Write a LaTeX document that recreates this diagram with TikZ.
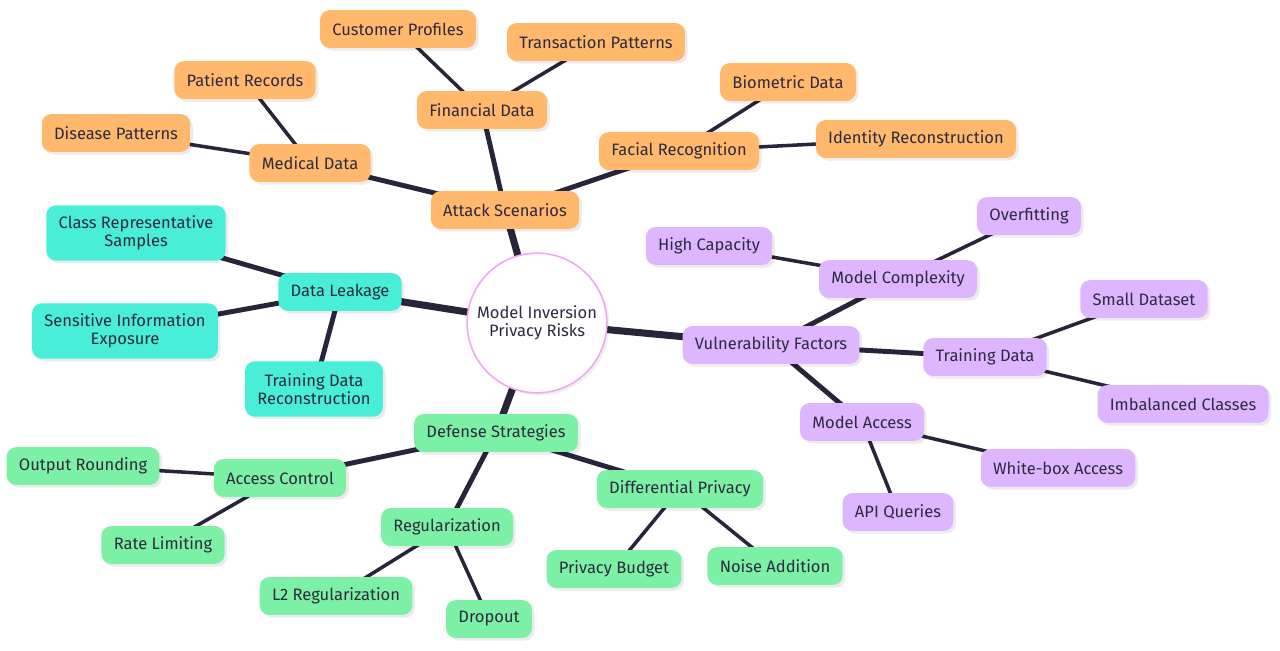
\documentclass[tikz,border=0pt]{standalone}
\usepackage{fontspec}
\setmainfont{Fira Sans}
\usetikzlibrary{shadows,backgrounds}
\definecolor{atkcol}{RGB}{255,184,108}
\definecolor{leakcol}{RGB}{72,238,216}
\definecolor{vulncol}{RGB}{221,182,255}
\definecolor{defcol}{RGB}{124,240,164}
\definecolor{edgecol}{RGB}{40,36,58}
\definecolor{txtcol}{RGB}{45,42,64}
\definecolor{rootcol}{RGB}{240,168,240}
\begin{document}
\begin{tikzpicture}[x=0.02cm,y=-0.02cm,
    every node/.style={font=\fontsize{9.4}{10.2}\selectfont,text=txtcol},
    box/.style={rectangle,rounded corners=5.5pt,align=center,inner xsep=7pt,
      minimum height=21.5pt,drop shadow={shadow xshift=1.5pt,shadow yshift=-1.5pt,fill=black,opacity=0.08}},
    atk/.style={box,fill=atkcol},
    leak/.style={box,fill=leakcol},
    vuln/.style={box,fill=vulncol},
    def/.style={box,fill=defcol},
    two/.style={minimum height=31.5pt},
    lvla/.style={draw=edgecol,line width=4pt},
    lvlb/.style={draw=edgecol,line width=2.8pt},
    lvlc/.style={draw=edgecol,line width=2pt}]
  \useasboundingbox (0,0) rectangle (1280,651);
  \node[circle,draw=rootcol,line width=0.9pt,fill=white,minimum size=79.5pt,align=center,inner sep=0pt,
    drop shadow={shadow xshift=1.5pt,shadow yshift=-1.5pt,fill=black,opacity=0.06}] (root) at (537,323) {Model Inversion\\Privacy Risks};

  \node[atk] (atk) at (505,210) {Attack Scenarios};
  \node[atk] (med) at (310,163) {Medical Data};
  \node[atk] (patient) at (245,80) {Patient Records};
  \node[atk] (disease) at (116,133) {Disease Patterns};
  \node[atk] (fin) at (482,110) {Financial Data};
  \node[atk] (cust) at (398,29) {Customer Profiles};
  \node[atk] (trans) at (596,42) {Transaction Patterns};
  \node[atk] (face) at (679,151) {Facial Recognition};
  \node[atk] (bio) at (788,82) {Biometric Data};
  \node[atk] (ident) at (916,139) {Identity Reconstruction};

  \node[leak] (leak) at (340,292) {Data Leakage};
  \node[leak,two] (crs) at (136,233) {Class Representative\\Samples};
  \node[leak,two] (sie) at (125,331) {Sensitive Information\\Exposure};
  \node[leak,two] (tdr) at (314,389) {Training Data\\Reconstruction};

  \node[vuln] (vuln) at (771,345) {Vulnerability Factors};
  \node[vuln] (mcx) at (898,279) {Model Complexity};
  \node[vuln] (highcap) at (709,246) {High Capacity};
  \node[vuln] (overfit) at (1029,216) {Overfitting};
  \node[vuln] (tdata) at (985,357) {Training Data};
  \node[vuln] (small) at (1144,299) {Small Dataset};
  \node[vuln] (imbal) at (1183,404) {Imbalanced Classes};
  \node[vuln] (macc) at (862,422) {Model Access};
  \node[vuln] (white) at (1058,468) {White-box Access};
  \node[vuln] (api) at (898,512) {API Queries};

  \node[def] (def) at (496,433) {Defense Strategies};
  \node[def] (accc) at (280,478) {Access Control};
  \node[def] (outr) at (83,466) {Output Rounding};
  \node[def] (rate) at (163,545) {Rate Limiting};
  \node[def] (reg) at (447,527) {Regularization};
  \node[def] (l2) at (336,596) {L2 Regularization};
  \node[def] (drop) at (489,619) {Dropout};
  \node[def] (dp) at (680,489) {Differential Privacy};
  \node[def] (pbud) at (614,569) {Privacy Budget};
  \node[def] (noise) at (775,566) {Noise Addition};

  \begin{scope}[on background layer]
    \foreach \b in {atk,leak,vuln,def}
      \draw[lvla] (root.center) -- (\b.center);
    \foreach \a/\b in {atk/med,atk/fin,atk/face,leak/crs,leak/sie,leak/tdr,
                       vuln/mcx,vuln/tdata,vuln/macc,def/accc,def/reg,def/dp}
      \draw[lvlb] (\a.center) -- (\b.center);
    \foreach \a/\b in {med/patient,med/disease,fin/cust,fin/trans,face/bio,face/ident,
                       mcx/highcap,mcx/overfit,tdata/small,tdata/imbal,macc/white,macc/api,
                       accc/outr,accc/rate,reg/l2,reg/drop,dp/pbud,dp/noise}
      \draw[lvlc] (\a.center) -- (\b.center);
  \end{scope}
\end{tikzpicture}
\end{document}
